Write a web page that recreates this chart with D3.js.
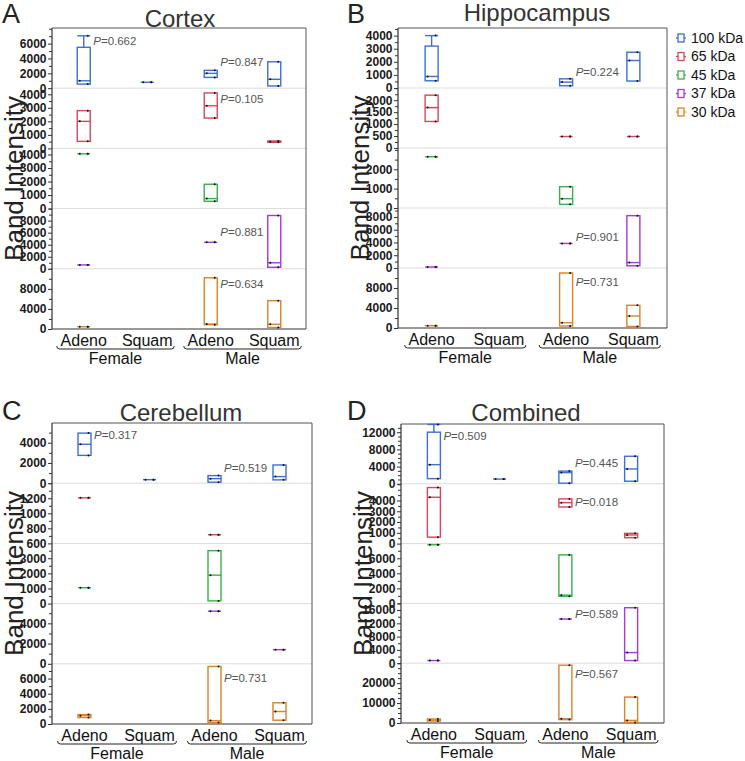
<!DOCTYPE html>
<html>
<head>
<meta charset="utf-8">
<script src="https://cdn.jsdelivr.net/npm/d3@7/dist/d3.min.js"></script>
<style>
  body { margin: 0; background: #fff; }
  text { font-family: "Liberation Sans", Arial, sans-serif; }
</style>
</head>
<body>
<svg id="chart" width="745" height="761"></svg>
<script>
const bands = ["100 kDa", "65 kDa", "45 kDa", "37 kDa", "30 kDa"]
const bandColors = ["#3d6fd6", "#d14a5c", "#3bb04a", "#a23bd8", "#d6842d"]
const groups = ["Adeno", "Squam", "Adeno", "Squam"]
const sexes = ["Female", "Male"]
const panelTitles = ["Cortex", "Hippocampus", "Cerebellum", "Combined"]
const panelLetters = ["A", "B", "C", "D"]

// y domain of each band (100, 65, 45, 37, 30 kDa)
const cortexDomains = [[0, 8100], [0, 4450], [0, 4450], [0, 10000], [0, 12000]]
const hippoDomains = [[0, 4580], [0, 2510], [0, 3100], [0, 9400], [0, 12000]]
const cerebDomains = [[0, 5950], [600, 1400], [0, 3980], [0, 5950], [0, 7950]]
const combDomains = [[0, 13900], [0, 5550], [0, 7950], [0, 18000], [0, 30000]]

// labelled ticks of each band
const cortexTicks = [[0, 2000, 4000, 6000], [0, 1000, 2000, 3000, 4000], [0, 1000, 2000, 3000, 4000], [0, 2000, 4000, 6000, 8000], [0, 4000, 8000]]
const hippoTicks = [[0, 1000, 2000, 3000, 4000], [0, 500, 1000, 1500, 2000], [0, 1000, 2000], [0, 2000, 4000, 6000, 8000], [0, 4000, 8000]]
const cerebTicks = [[0, 2000, 4000], [600, 800, 1000, 1200], [0, 1000, 2000, 3000], [0, 2000, 4000], [0, 2000, 4000, 6000]]
const combTicks = [[0, 4000, 8000, 12000], [0, 1000, 2000, 3000, 4000], [0, 2000, 4000, 6000], [0, 4000, 8000, 12000, 16000], [0, 10000, 20000]]

// minor tick step of each band
const cortexMinor = [1000, 500, 500, 1000, 2000]
const hippoMinor = [500, 250, 500, 1000, 2000]
const cerebMinor = [1000, 100, 500, 1000, 1000]
const combMinor = [1000, 500, 1000, 2000, 2500]

// boxes: band, group, min, q1, median, q3, max
const cortexBoxes = [
  [0, 0, 550, 550, 1000, 5500, 7050], [0, 1, 800, 800, 800, 800, 800],
  [0, 2, 1450, 1450, 2000, 2400, 2400], [0, 3, 300, 300, 1200, 3550, 3550],
  [1, 0, 520, 520, 2000, 2790, 2790], [1, 2, 2240, 2240, 3150, 4100, 4100],
  [1, 3, 450, 450, 500, 550, 550],
  [2, 0, 4050, 4050, 4050, 4050, 4050], [2, 2, 540, 540, 740, 1800, 1800],
  [3, 0, 650, 650, 650, 650, 650], [3, 2, 4400, 4400, 4400, 4400, 4400],
  [3, 3, 250, 250, 1000, 8850, 8850],
  [4, 0, 450, 450, 450, 450, 450], [4, 2, 850, 850, 1000, 10200, 10200],
  [4, 3, 300, 300, 950, 5650, 5650]
]
const hippoBoxes = [
  [0, 0, 550, 550, 880, 3200, 4000], [0, 2, 170, 170, 450, 700, 700],
  [0, 3, 530, 530, 2100, 2730, 2730],
  [1, 0, 1110, 1110, 1690, 2210, 2210], [1, 2, 480, 480, 480, 480, 480],
  [1, 3, 480, 480, 480, 480, 480],
  [2, 0, 2650, 2650, 2650, 2650, 2650], [2, 2, 190, 190, 480, 1100, 1100],
  [3, 0, 150, 150, 150, 150, 150], [3, 2, 3850, 3850, 3850, 3850, 3850],
  [3, 3, 350, 350, 850, 8200, 8200],
  [4, 0, 450, 450, 450, 450, 450], [4, 2, 400, 400, 1050, 11000, 11000],
  [4, 3, 300, 300, 2400, 4550, 4550]
]
const cerebBoxes = [
  [0, 0, 2750, 2750, 3850, 4950, 4950], [0, 1, 350, 350, 350, 350, 350],
  [0, 2, 100, 100, 450, 750, 750], [0, 3, 330, 330, 650, 1800, 1800],
  [1, 0, 1205, 1205, 1205, 1205, 1205], [1, 2, 715, 715, 715, 715, 715],
  [2, 0, 1050, 1050, 1050, 1050, 1050], [2, 2, 180, 180, 1880, 3500, 3500],
  [3, 2, 5200, 5200, 5200, 5200, 5200], [3, 3, 1400, 1400, 1400, 1400, 1400],
  [4, 0, 850, 850, 1100, 1250, 1250], [4, 2, 200, 200, 450, 7600, 7600],
  [4, 3, 500, 500, 1650, 2800, 2800]
]
const combBoxes = [
  [0, 0, 1200, 1200, 4450, 12000, 13800], [0, 1, 1100, 1100, 1100, 1100, 1100],
  [0, 2, 150, 150, 2600, 2950, 2950], [0, 3, 600, 600, 3450, 6400, 6400],
  [1, 0, 600, 600, 4300, 5200, 5200], [1, 2, 3400, 3400, 3800, 4150, 4150],
  [1, 3, 550, 550, 800, 950, 950],
  [2, 0, 7800, 7800, 7800, 7800, 7800], [2, 2, 950, 950, 1100, 6450, 6450],
  [3, 0, 800, 800, 800, 800, 800], [3, 2, 13300, 13300, 13300, 13300, 13300],
  [3, 3, 800, 800, 3200, 16700, 16700],
  [4, 0, 1000, 1000, 1500, 2000, 2000], [4, 2, 1700, 1700, 2100, 29000, 29000],
  [4, 3, 300, 300, 1300, 13000, 13000]
]

// P values: band, group, height of label, text
const cortexP = [[0, 0, 6400, "0.662"], [0, 2, 3470, "0.847"], [1, 2, 3650, "0.105"], [3, 2, 6050, "0.881"], [4, 2, 9000, "0.634"]]
const hippoP = [[0, 2, 1225, "0.224"], [3, 2, 4850, "0.901"], [4, 2, 9260, "0.731"]]
const cerebP = [[0, 0, 4760, "0.317"], [0, 2, 1530, "0.519"], [4, 2, 6100, "0.731"]]
const combP = [[0, 0, 11130, "0.509"], [0, 2, 4820, "0.445"], [1, 2, 3850, "0.018"], [3, 2, 14800, "0.589"], [4, 2, 24500, "0.567"]]

const panels = [
  { domains: cortexDomains, ticks: cortexTicks, minor: cortexMinor, boxes: cortexBoxes, pv: cortexP,
    x0: 52, x1: 306, y0: 28, y1: 329, lx: 2, ly: 23, tx: 180, ty: 27 },
  { domains: hippoDomains, ticks: hippoTicks, minor: hippoMinor, boxes: hippoBoxes, pv: hippoP,
    x0: 398, x1: 667, y0: 28, y1: 328, lx: 347, ly: 23, tx: 537, ty: 21 },
  { domains: cerebDomains, ticks: cerebTicks, minor: cerebMinor, boxes: cerebBoxes, pv: cerebP,
    x0: 52, x1: 312, y0: 423, y1: 724, lx: 2, ly: 420, tx: 181, ty: 421 },
  { domains: combDomains, ticks: combTicks, minor: combMinor, boxes: combBoxes, pv: combP,
    x0: 401, x1: 664, y0: 424, y1: 723, lx: 347, ly: 420, tx: 526, ty: 421 }
]

const svg = d3.select("#chart")
const boxW = 13

panels.forEach((p, pi) => {
  const g = svg.append("g")
  const bh = (p.y1 - p.y0) / bands.length

  const x = d3.scalePoint()
    .domain(d3.range(groups.length))
    .range([p.x0, p.x1])
    .padding(0.5)

  const yScales = p.domains.map((dom, i) => d3.scaleLinear()
    .domain(dom)
    .range([p.y0 + (i + 1) * bh, p.y0 + i * bh]))

  // band separators
  g.selectAll(".sep").data(d3.range(1, bands.length)).enter().append("line")
    .attr("x1", p.x0).attr("x2", p.x1)
    .attr("y1", i => p.y0 + i * bh).attr("y2", i => p.y0 + i * bh)
    .attr("stroke", "#dcdcdc").attr("stroke-width", 1)

  // frame
  g.append("path")
    .attr("d", `M${p.x0},${p.y0}H${p.x1}V${p.y1}`)
    .attr("fill", "none").attr("stroke", "#555").attr("stroke-width", 1)
  g.append("path")
    .attr("d", `M${p.x0},${p.y0}V${p.y1}H${p.x1}`)
    .attr("fill", "none").attr("stroke", "#333").attr("stroke-width", 1.2)

  // y axes
  yScales.forEach((y, i) => {
    const dom = y.domain()
    const minorVals = d3.range(dom[0], dom[1] + 1, p.minor[i]).filter(v => !p.ticks[i].includes(v))
    const minorAxis = g.append("g")
      .attr("transform", `translate(${p.x0},0)`)
      .call(d3.axisLeft(y).tickValues(minorVals).tickSize(3).tickFormat(""))
    minorAxis.select(".domain").remove()
    minorAxis.selectAll("line").attr("stroke", "#333")

    const axis = g.append("g")
      .attr("transform", `translate(${p.x0},0)`)
      .call(d3.axisLeft(y).tickValues(p.ticks[i]).tickSize(4).tickPadding(1.5).tickFormat(d3.format("d")))
    axis.select(".domain").remove()
    axis.selectAll("line").attr("stroke", "#333")
    axis.selectAll("text")
      .attr("font-size", 12).attr("font-weight", "bold").attr("fill", "#1a1a1a")
      .style("font-family", "'Liberation Sans', Arial, sans-serif")
  })

  // boxes
  p.boxes.forEach(b => {
    const [bi, gi, mn, q1, md, q3, mx] = b
    const y = yScales[bi]
    const cx = x(gi)
    const col = bandColors[bi]
    const bx = g.append("g")
    if (q3 > q1) {
      bx.append("rect")
        .attr("x", cx - boxW / 2).attr("width", boxW)
        .attr("y", y(q3)).attr("height", y(q1) - y(q3))
        .attr("fill", "none").attr("stroke", col).attr("stroke-width", 1.4)
    }
    bx.append("line")
      .attr("x1", cx - boxW / 2).attr("x2", cx + boxW / 2)
      .attr("y1", y(md)).attr("y2", y(md))
      .attr("stroke", col).attr("stroke-width", 1.4)
    if (mx > q3) {
      bx.append("line")
        .attr("x1", cx).attr("x2", cx).attr("y1", y(q3)).attr("y2", y(mx))
        .attr("stroke", col).attr("stroke-width", 1.4)
      bx.append("line")
        .attr("x1", cx - boxW / 2).attr("x2", cx + boxW / 2)
        .attr("y1", y(mx)).attr("y2", y(mx))
        .attr("stroke", col).attr("stroke-width", 1.4)
    }
    if (mn < q1) {
      bx.append("line")
        .attr("x1", cx).attr("x2", cx).attr("y1", y(q1)).attr("y2", y(mn))
        .attr("stroke", col).attr("stroke-width", 1.4)
    }
    // data points
    const pts = [[mn, 4], [md, -4], [mx, 4]]
    bx.selectAll("circle").data(pts).enter().append("circle")
      .attr("cx", d => cx + d[1]).attr("cy", d => y(d[0]))
      .attr("r", 1).attr("fill", "#111")
  })

  // P values
  p.pv.forEach(d => {
    const t = g.append("text")
      .attr("x", x(d[1]) + boxW / 2 + 3)
      .attr("y", yScales[d[0]](d[2]))
      .attr("dy", "0.35em")
      .attr("font-size", 11.5).attr("fill", "#555")
    t.append("tspan").attr("font-style", "italic").text("P")
    t.append("tspan").text("=" + d[3])
  })

  // x labels
  g.selectAll(".grp").data(groups).enter().append("text")
    .attr("x", (d, i) => x(i)).attr("y", p.y1 + 17)
    .attr("text-anchor", "middle").attr("font-size", 16).attr("fill", "#111")
    .text(d => d)

  sexes.forEach((s, si) => {
    const a = x(si * 2) - 27
    const b = x(si * 2 + 1) + 27
    g.append("path")
      .attr("d", `M${a},${p.y1 + 17}Q${a},${p.y1 + 20} ${a + 3},${p.y1 + 20}H${b - 3}Q${b},${p.y1 + 20} ${b},${p.y1 + 17}`)
      .attr("fill", "none").attr("stroke", "#222").attr("stroke-width", 1)
    g.append("text")
      .attr("x", (a + b) / 2).attr("y", p.y1 + 35)
      .attr("text-anchor", "middle").attr("font-size", 16).attr("fill", "#111")
      .text(s)
  })

  // y title
  g.append("text")
    .attr("transform", `translate(${p.x0 - 29},${(p.y0 + p.y1) / 2}) rotate(-90)`)
    .attr("text-anchor", "middle").attr("font-size", 26).attr("fill", "#222")
    .text("Band Intensity")

  // panel title and letter
  g.append("text")
    .attr("x", p.tx).attr("y", p.ty)
    .attr("text-anchor", "middle").attr("font-size", 24).attr("fill", "#333")
    .text(panelTitles[pi])
  g.append("text")
    .attr("x", p.lx).attr("y", p.ly)
    .attr("font-size", 27).attr("fill", "#222")
    .text(panelLetters[pi])
})

// legend
const legend = svg.append("g").attr("transform", "translate(676,38)")
bands.forEach((b, i) => {
  const row = legend.append("g").attr("transform", `translate(0,${i * 18.5})`)
  row.append("line").attr("x1", 0).attr("x2", 10).attr("y1", 0).attr("y2", 0)
    .attr("stroke", bandColors[i]).attr("stroke-width", 1.3)
  row.append("rect").attr("x", 2).attr("y", -4).attr("width", 6).attr("height", 8)
    .attr("fill", "#fff").attr("stroke", bandColors[i]).attr("stroke-width", 1.3)
  row.append("text").attr("x", 15).attr("y", 0).attr("dy", "0.35em")
    .attr("font-size", 14).attr("fill", "#111").text(b)
})
</script>
</body>
</html>
